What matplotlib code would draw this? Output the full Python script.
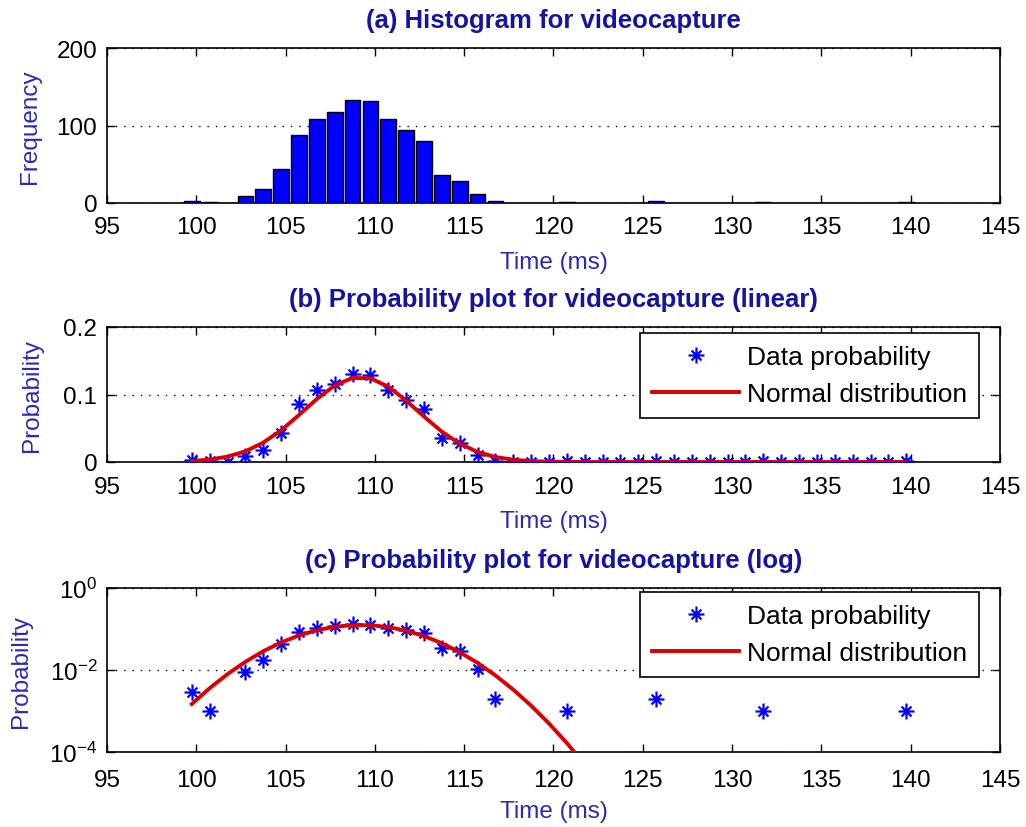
import numpy as np
import matplotlib
matplotlib.use("Agg")
import matplotlib.pyplot as plt
from matplotlib.path import Path
from matplotlib.ticker import FixedLocator, FixedFormatter

# Bin centres (ms) and histogram counts for the videocapture timings
bin_centres = [99.75 + k for k in range(41)]
counts = [3, 1, 0, 9, 18, 44, 88, 109, 118, 133,
          131, 109, 94, 80, 36, 29, 11, 2, 0, 0,
          0, 1, 0, 0, 0, 0, 2, 0, 0, 0,
          0, 0, 1, 0, 0, 0, 0, 0, 0, 0,
          1]

# Fitted normal distribution parameters (ms)
fit_mean = 109.2
fit_std = 3.17

x_ticks = [95, 100, 105, 110, 115, 120, 125, 130, 135, 140, 145]
titles = ["(a) Histogram for videocapture",
          "(b) Probability plot for videocapture (linear)",
          "(c) Probability plot for videocapture (log)"]

plt.rcParams["font.family"] = ["Liberation Sans", "DejaVu Sans"]
plt.rcParams["mathtext.default"] = "regular"

centres = np.array(bin_centres)
cnt = np.array(counts, dtype=float)
prob = cnt / cnt.sum()
normal_pdf = np.exp(-(centres - fit_mean) ** 2 / (2 * fit_std ** 2)) / (fit_std * np.sqrt(2 * np.pi))

title_color = "#1414a0"
label_color = "#2a2ab4"
tick_fs = 17.5
legend_fs = 19
title_font = dict(family=["Liberation Sans", "DejaVu Sans"],
                  weight="bold", size=18.5, color=title_color)

# Asterisk marker: long horizontal/vertical strokes with shorter diagonals
d = 0.62
ast_path = Path(
    [(-1, 0), (1, 0), (0, -1), (0, 1), (-d, -d), (d, d), (-d, d), (d, -d)],
    [Path.MOVETO, Path.LINETO] * 4,
)

W, H = 1026, 828
fig = plt.figure(figsize=(W / 100, H / 100), dpi=100)
LEFT, RIGHT = 107, 1000


def frame(top_px, bottom_px):
    return [LEFT / W, 1 - bottom_px / H, (RIGHT - LEFT) / W, (bottom_px - top_px) / H]


ax_a = fig.add_axes(frame(49, 204))
ax_b = fig.add_axes(frame(328, 463))
ax_c = fig.add_axes(frame(589, 753))


def style(ax, ylabel, ylabel_px, tick_pad=10):
    ax.set_xlim(95, 145)
    ax.xaxis.set_major_locator(FixedLocator(x_ticks))
    ax.set_xticklabels([str(t) for t in x_ticks])
    ax.tick_params(direction="in", top=True, right=True, length=6, width=1,
                   labelsize=tick_fs, colors="black")
    ax.tick_params(axis="x", pad=tick_pad)
    ax.tick_params(axis="y", pad=7)
    ax.tick_params(which="minor", length=0)
    for s in ax.spines.values():
        s.set_linewidth(1.2)
    ax.yaxis.grid(True, linestyle=(0, (1, 5)), color="black", linewidth=1.0)
    ax.xaxis.grid(False)
    ax.set_axisbelow(False)
    ax.set_xlabel("Time (ms)", fontsize=tick_fs, color=label_color,
                  labelpad=7 + (12 - tick_pad))
    ax.set_ylabel(ylabel, fontsize=tick_fs, color=label_color)
    ax.yaxis.set_label_coords((ylabel_px - LEFT) / (RIGHT - LEFT), 0.5)


# (a) histogram
ax_a.bar(centres, cnt, width=0.88, color="#0000ff", edgecolor="black", linewidth=1.0, zorder=3)
style(ax_a, "Frequency", 41, tick_pad=9.5)
ax_a.set_ylim(0, 200)
ax_a.set_yticks([0, 100, 200])
ax_a.set_title(titles[0], pad=15, **title_font)

# (b) linear probability
ax_b.plot(centres, prob, linestyle="none", marker=ast_path, markersize=11.5,
          markeredgewidth=1.6, color="#0000ff", label="Data probability", zorder=3)
ax_b.plot(centres, normal_pdf, color="#dd0000", linewidth=2.8, label="Normal distribution", zorder=4)
style(ax_b, "Probability", 43, tick_pad=10)
ax_b.set_ylim(0, 0.2)
ax_b.set_yticks([0, 0.1, 0.2])
ax_b.set_yticklabels(["0", "0.1", "0.2"])
ax_b.set_title(titles[1], pad=15, **title_font)

# (c) log probability
mask = prob > 0
ax_c.plot(centres[mask], prob[mask], linestyle="none", marker=ast_path, markersize=11.5,
          markeredgewidth=1.6, color="#0000ff", label="Data probability", zorder=3)
ax_c.plot(centres, normal_pdf, color="#dd0000", linewidth=2.8, label="Normal distribution", zorder=4)
ax_c.set_yscale("log")
style(ax_c, "Probability", 32, tick_pad=12)
ax_c.set_ylim(1e-4, 1)
ax_c.yaxis.set_major_locator(FixedLocator([1e-4, 1e-2, 1]))
ax_c.yaxis.set_major_formatter(FixedFormatter([r"$10^{-4}$", r"$10^{-2}$", r"$10^{0}$"]))
ax_c.yaxis.set_minor_locator(FixedLocator([]))
ax_c.set_title(titles[2], pad=15, **title_font)

# Legends anchored at the upper right, inset from the frame
for ax, top_px, bottom_px, box_top in ((ax_b, 328, 463, 334), (ax_c, 589, 753, 593)):
    ax_h = bottom_px - top_px
    anchor = ((979 - LEFT) / (RIGHT - LEFT), (bottom_px - box_top) / ax_h)
    leg = ax.legend(loc="upper right", bbox_to_anchor=anchor, borderaxespad=0,
                    fontsize=legend_fs, frameon=True, fancybox=False,
                    edgecolor="black", framealpha=1,
                    handlelength=3.3, handletextpad=0.3, borderpad=0.45,
                    labelspacing=0.5)
    leg.get_frame().set_linewidth(1.2)

fig.savefig("out.png", dpi=100, facecolor="white")
